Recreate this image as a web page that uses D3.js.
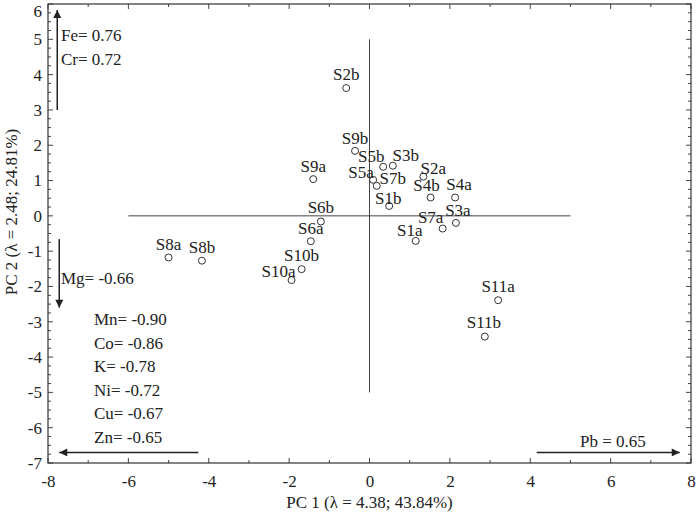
<!DOCTYPE html>
<html>
<head>
<meta charset="utf-8">
<script src="https://cdn.jsdelivr.net/npm/d3@7"></script>
<style>
  html, body { margin: 0; padding: 0; background: #fff; }
  svg { display: block; }
  text { font-family: "Liberation Serif", "Times New Roman", serif; fill: #222; }
</style>
</head>
<body>
<script>
// ---- Data ----
const samples = ["S1a","S1b","S2a","S2b","S3a","S3b","S4a","S4b","S5a","S5b","S6a","S6b",
                 "S7a","S7b","S8a","S8b","S9a","S9b","S10a","S10b","S11a","S11b"];
const pc1 = [1.15, 0.49, 1.34, -0.58, 2.15, 0.58, 2.13, 1.52, 0.09, 0.34, -1.46, -1.21,
             1.82, 0.18, -5.00, -4.17, -1.40, -0.36, -1.94, -1.69, 3.20, 2.87];
const pc2 = [-0.71, 0.28, 1.11, 3.62, -0.20, 1.42, 0.52, 0.52, 1.02, 1.39, -0.72, -0.16,
             -0.36, 0.85, -1.18, -1.27, 1.04, 1.84, -1.82, -1.51, -2.39, -3.42];
const xTicks = [-8, -6, -4, -2, 0, 2, 4, 6, 8];
const yTicks = [-7, -6, -5, -4, -3, -2, -1, 0, 1, 2, 3, 4, 5, 6];
const loadUp = ["Fe= 0.76", "Cr= 0.72"];
const loadDown = ["Mg= -0.66"];
const loadLeft = ["Mn= -0.90", "Co= -0.86", "K= -0.78", "Ni= -0.72", "Cu= -0.67", "Zn= -0.65"];
const loadRight = ["Pb = 0.65"];
const xTitle = "PC 1 (λ = 4.38; 43.84%)";
const yTitle = "PC 2 (λ = 2.48; 24.81%)";

// ---- Layout (label offsets in px, relative to the point) ----
const labelOffset = {
  S2b:[0,-8], S9b:[0,-7], S5b:[-12,-5], S3b:[13,-5], S5a:[-12,-2], S7b:[16,-2],
  S1b:[-1,-2], S2a:[10,-3], S4b:[-4,-6], S4a:[4,-7], S3a:[2,-7], S7a:[-12,-6],
  S1a:[-6,-5], S9a:[0,-7], S6b:[0,-8], S6a:[0,-7], S8a:[0,-8], S8b:[0,-8],
  S10b:[0,-8], S10a:[-13,-3], S11a:[0,-8], S11b:[-1,-9]
};

const W = 698, H = 513;
const L = 48, R = 691, T = 4, B = 463;
const fs = 17;
const ink = "#222";

const svg = d3.select("body").append("svg").attr("width", W).attr("height", H);

const x = d3.scaleLinear().domain([-8, 8]).range([L, R]);
const y = d3.scaleLinear().domain([-7, 6]).range([B, T]);

// defs: arrow head
svg.append("defs").append("marker")
  .attr("id", "ah").attr("viewBox", "0 0 10 10")
  .attr("refX", 10).attr("refY", 5)
  .attr("markerWidth", 9).attr("markerHeight", 8)
  .attr("markerUnits", "userSpaceOnUse")
  .attr("orient", "auto")
  .append("path").attr("d", "M0,0 L10,5 L0,10 Z").attr("fill", ink);

// ---- Axes (ticks inside) ----
const xMinor = d3.range(-8, 8.01, 1);
const yMinor = d3.range(-7, 6.01, 0.25);

const gx = svg.append("g").attr("transform", `translate(0,${B})`)
  .call(d3.axisBottom(x).tickValues(xTicks).tickFormat(d => d).tickSize(0).tickPadding(12));
gx.select(".domain").remove();
gx.selectAll("text").attr("font-size", fs).attr("font-family", "Liberation Serif").attr("fill", ink);

const gy = svg.append("g").attr("transform", `translate(${L},0)`)
  .call(d3.axisLeft(y).tickValues(yTicks).tickFormat(d => d).tickSize(0).tickPadding(6));
gy.select(".domain").remove();
gy.selectAll("text").attr("font-size", fs).attr("font-family", "Liberation Serif").attr("fill", ink);
gy.selectAll(".tick").filter(d => d === 6).select("text").attr("dy", "0.72em");

const tk = svg.append("g").attr("stroke", "#444").attr("stroke-width", 1);
xMinor.forEach(v => {
  const len = (Math.round(v) % 2 === 0) ? 5 : 3;
  tk.append("line").attr("x1", x(v)).attr("x2", x(v)).attr("y1", B).attr("y2", B - len);
  tk.append("line").attr("x1", x(v)).attr("x2", x(v)).attr("y1", T).attr("y2", T + len);
});
yMinor.forEach(v => {
  const len = (Math.abs(v - Math.round(v)) < 1e-6) ? 5 : 3;
  tk.append("line").attr("y1", y(v)).attr("y2", y(v)).attr("x1", L).attr("x2", L + len);
  tk.append("line").attr("y1", y(v)).attr("y2", y(v)).attr("x1", R).attr("x2", R - len);
});

// frame
svg.append("rect").attr("x", L).attr("y", T).attr("width", R - L).attr("height", B - T)
  .attr("fill", "none").attr("stroke", "#333").attr("stroke-width", 1.2);

// axis titles
svg.append("text").attr("x", x(0)).attr("y", 508).attr("text-anchor", "middle")
  .attr("font-size", fs).text(xTitle);
svg.append("text").attr("transform", `translate(17,${212}) rotate(-90)`)
  .attr("text-anchor", "middle").attr("font-size", fs).text(yTitle);

// ---- Cross lines ----
svg.append("line").attr("x1", x(-6)).attr("x2", x(5)).attr("y1", y(0)).attr("y2", y(0))
  .attr("stroke", "#444").attr("stroke-width", 1);
svg.append("line").attr("x1", x(0)).attr("x2", x(0)).attr("y1", y(5)).attr("y2", y(-5))
  .attr("stroke", "#444").attr("stroke-width", 1);

// ---- Loading arrows ----
const arrows = [
  [-7.77, 3.0, -7.77, 5.83],
  [-7.72, -0.66, -7.72, -2.6],
  [-4.26, -6.70, -7.72, -6.70],
  [4.16, -6.70, 7.72, -6.70]
];
svg.append("g").selectAll("line").data(arrows).join("line")
  .attr("x1", d => x(d[0])).attr("y1", d => y(d[1]))
  .attr("x2", d => x(d[2])).attr("y2", d => y(d[3]))
  .attr("stroke", ink).attr("stroke-width", 1.5).attr("marker-end", "url(#ah)");

svg.append("g").selectAll("text").data(loadUp).join("text")
  .attr("x", 61).attr("y", (d, i) => 41 + i * 23.5).attr("font-size", fs).text(d => d);
svg.append("g").selectAll("text").data(loadDown).join("text")
  .attr("x", 61).attr("y", 284).attr("font-size", fs).text(d => d);
svg.append("g").selectAll("text").data(loadLeft).join("text")
  .attr("x", 94).attr("y", (d, i) => 325 + i * 23.5).attr("font-size", fs).text(d => d);
svg.append("g").selectAll("text").data(loadRight).join("text")
  .attr("x", 580).attr("y", 447).attr("font-size", fs).text(d => d);

// ---- Points ----
const pts = samples.map((s, i) => ({ name: s, px: pc1[i], py: pc2[i] }));
svg.append("g").selectAll("circle").data(pts).join("circle")
  .attr("cx", d => x(d.px)).attr("cy", d => y(d.py)).attr("r", 3.5)
  .attr("fill", "#fff").attr("stroke", "#333").attr("stroke-width", 1);

svg.append("g").selectAll("text").data(pts).join("text")
  .attr("x", d => x(d.px) + labelOffset[d.name][0])
  .attr("y", d => y(d.py) + labelOffset[d.name][1])
  .attr("text-anchor", "middle").attr("font-size", fs).text(d => d.name);
</script>
</body>
</html>
